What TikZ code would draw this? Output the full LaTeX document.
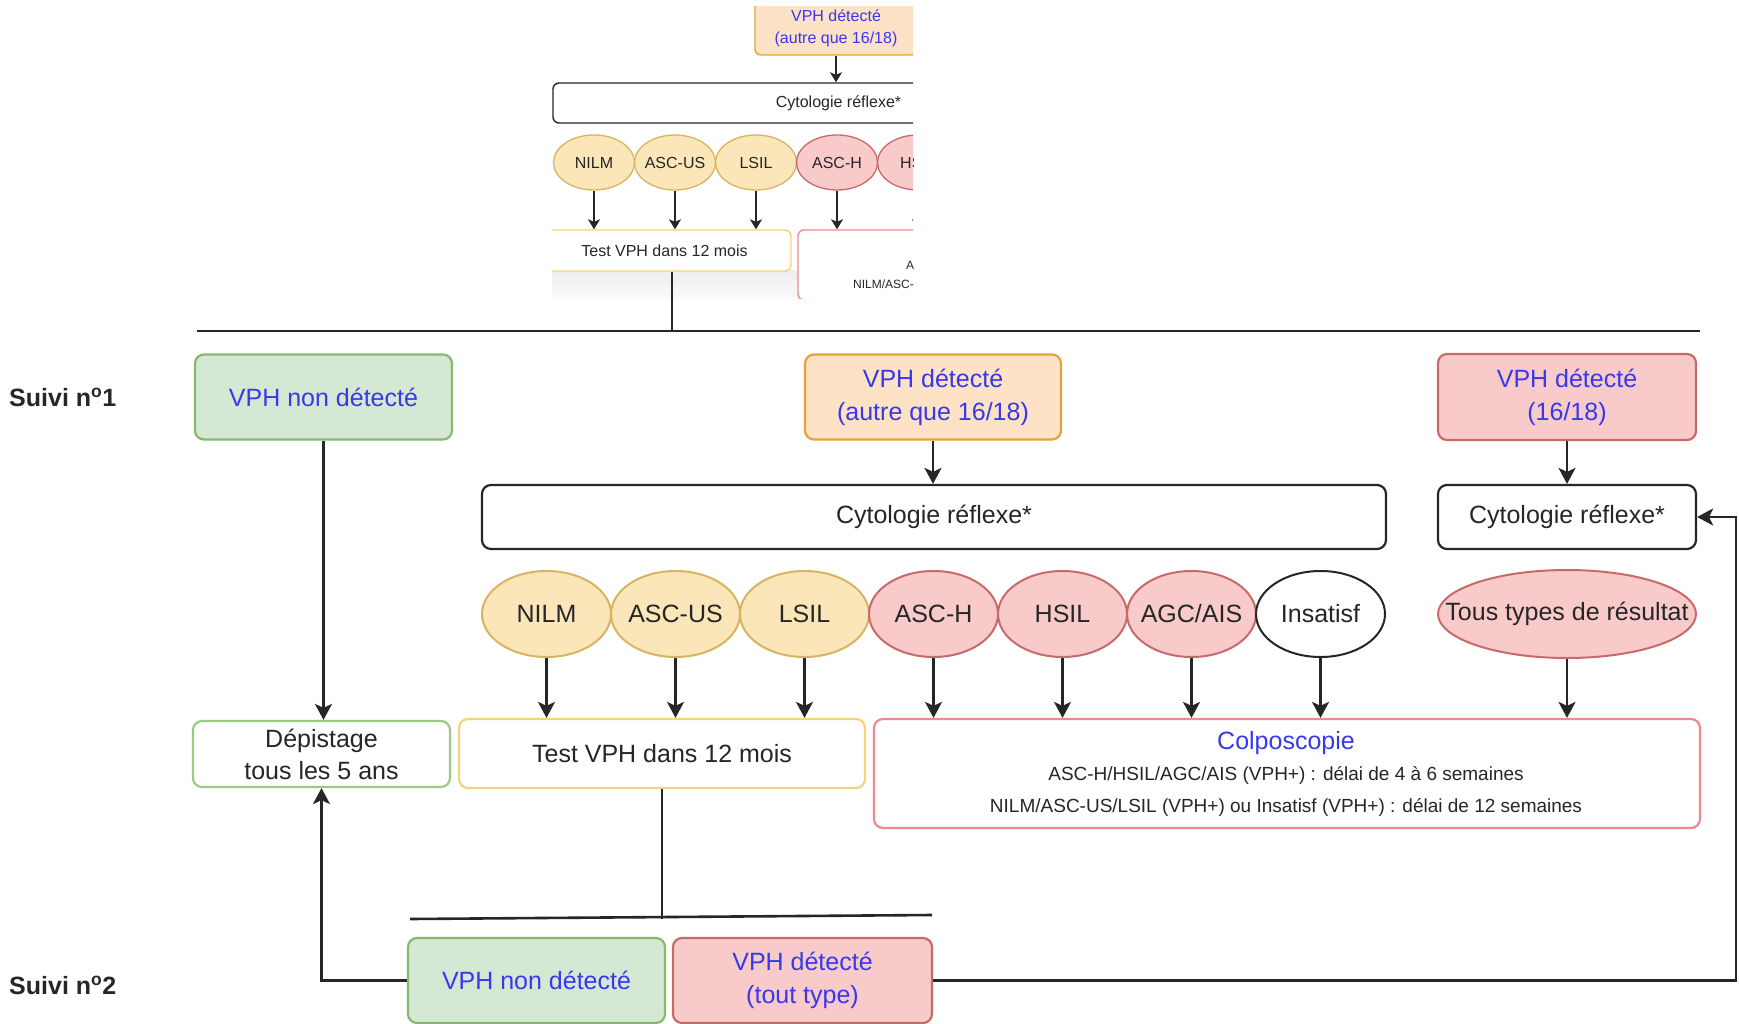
\documentclass[tikz,border=0pt]{standalone}
\usepackage{fontspec}
\setmainfont{Liberation Sans}
\usetikzlibrary{arrows.meta,shapes.geometric,calc}
\definecolor{gfill}{HTML}{D5E8D4}
\definecolor{gdraw}{HTML}{86B96C}
\definecolor{depd}{HTML}{9ACB86}
\definecolor{ofill}{HTML}{FDE2C6}
\definecolor{odraw}{HTML}{E3A33A}
\definecolor{rfill}{HTML}{F8CACA}
\definecolor{rdraw}{HTML}{C96A6A}
\definecolor{yfill}{HTML}{FAE6B8}
\definecolor{ydraw}{HTML}{D9B460}
\definecolor{tdraw}{HTML}{F3D47C}
\definecolor{cdraw}{HTML}{EF8890}
\definecolor{blu}{HTML}{3838EC}
\definecolor{txt}{HTML}{262626}
\definecolor{lin}{HTML}{262626}
\newcommand{\ezb}[1]{\makebox[0pt]{#1}}
\begin{document}
\begin{tikzpicture}[x=1pt,y=-1pt,
  box/.style={rectangle, rounded corners=9pt, line width=2.2pt, inner sep=0pt, align=center, text=txt, font=\fontsize{25}{33}\selectfont},
  ibox/.style={rectangle, rounded corners=6pt, line width=1.4pt, inner sep=0pt, align=center, text=txt, font=\fontsize{16}{22}\selectfont},
  ell/.style={ellipse, inner sep=0pt, line width=2pt, minimum width=129pt, minimum height=86pt, text=txt, font=\fontsize{25}{30}\selectfont},
  iell/.style={ellipse, inner sep=0pt, line width=1.3pt, minimum width=81pt, minimum height=55pt, text=txt, font=\fontsize{16}{20}\selectfont},
  yel/.style={fill=yfill, draw=ydraw},
  red/.style={fill=rfill, draw=rdraw},
  con/.style={line width=2.4pt, draw=lin},
  arr/.style={con, -{Stealth[length=16pt,width=17pt,inset=4pt]}},
  iarr/.style={line width=1.5pt, draw=lin, -{Stealth[length=10pt,width=12pt,inset=2.5pt]}},
  lab/.style={anchor=west, inner sep=0pt, text=txt, font=\bfseries\fontsize{25}{30}\selectfont}
]
\clip (0,0) rectangle (1739,1024);
\fill[white] (0,0) rectangle (1739,1024);

% ---------- inset (cropped picture) ----------
\begin{scope}
\clip (552,7) rectangle (913,298);
\shade[top color=black!7, bottom color=black!2] (552,271) rectangle (800,298);
\node[ibox, fill=ofill, draw=odraw, text=blu, minimum width=162pt, minimum height=54pt] (io) at (836,28) {VPH détecté\\(autre que 16/18)};
\node[ibox, fill=white, draw=lin, minimum width=571pt, minimum height=40pt] (ic) at (838.5,103) {Cytologie réflexe*};
\node[iell, yel] (i1) at (594,162.5) {\ezb{NILM}};
\node[iell, yel] (i2) at (675,162.5) {\ezb{ASC-US}};
\node[iell, yel] (i3) at (756,162.5) {\ezb{LSIL}};
\node[iell, red] (i4) at (837,162.5) {\ezb{ASC-H}};
\node[iell, red] (i5) at (918,162.5) {\ezb{HSIL}};
\node[ibox, fill=white, draw=tdraw, minimum width=253pt, minimum height=41pt] (it) at (664.5,250.5) {Test VPH dans 12 mois};
\node[ibox, fill=white, draw=cdraw, minimum width=522pt, minimum height=70pt] (icl) at (1059,265) {};
\node[anchor=west, inner sep=0pt, text=txt, font=\fontsize{12}{14}\selectfont] (ia) at (906,266) {ASC-H/HSIL/AGC/AIS (VPH+) : délai de 4 à 6 semaines};
\node[anchor=west, inner sep=0pt, text=txt, font=\fontsize{12}{14}\selectfont] (ib) at (853,285) {NILM/ASC-US/LSIL (VPH+) ou Insatisf (VPH+) : délai de 12 semaines};
\draw[iarr] (io.south) -- (io.south |- ic.north);
\foreach \e in {i1,i2,i3} \draw[iarr] (\e.south) -- (\e.south |- it.north);
\foreach \e in {i4,i5} \draw[iarr] (\e.south) -- (\e.south |- icl.north);
\end{scope}
\coordinate (tx) at (672,0);
\coordinate (h1a) at (197,331);
\coordinate (h1b) at (1700,331);
\draw[con] (tx |- it.south) -- (tx |- h1a);
\draw[con, line width=2.6pt] (h1a) -- (h1b);

% ---------- labels ----------
\node[lab] (s1) at (9,397) {Suivi n\textsuperscript{o}1};
\node[lab] (s2) at (9,985) {Suivi n\textsuperscript{o}2};

% ---------- row 1 ----------
\node[box, fill=gfill, draw=gdraw, text=blu, minimum width=257pt, minimum height=85pt] (nd1) at (323.5,397) {VPH non détecté};
\node[box, fill=ofill, draw=odraw, text=blu, minimum width=256pt, minimum height=85pt] (oth) at (933,397) {VPH détecté\\(autre que 16/18)};
\node[box, fill=rfill, draw=rdraw, text=blu, minimum width=258pt, minimum height=86pt] (hr) at (1567,397) {VPH détecté\\(16/18)};
\node[box, fill=white, draw=lin, minimum width=904pt, minimum height=64pt] (cyt1) at (934,517) {Cytologie réflexe*};
\node[box, fill=white, draw=lin, minimum width=258pt, minimum height=64pt] (cyt2) at (1567,517) {Cytologie réflexe*};

% ---------- ellipses ----------
\node[ell, yel] (e1) at (546.5,614) {\ezb{NILM}};
\node[ell, yel] (e2) at (675.5,614) {\ezb{ASC-US}};
\node[ell, yel] (e3) at (804.5,614) {\ezb{LSIL}};
\node[ell, red] (e4) at (933.5,614) {\ezb{ASC-H}};
\node[ell, red] (e5) at (1062.5,614) {\ezb{HSIL}};
\node[ell, red] (e6) at (1191.5,614) {\ezb{AGC/AIS}};
\node[ell, fill=white, draw=lin] (e7) at (1320.5,614) {\ezb{Insatisf}};
\node[ell, red, minimum width=258pt, minimum height=88pt] (e8) at (1567,614) {\ezb{Tous types de résultat}};

% ---------- row 3 ----------
\node[box, fill=white, draw=depd, minimum width=257pt, minimum height=66pt, font=\fontsize{25}{32}\selectfont] (dep) at (321.5,754) {Dépistage\\tous les 5 ans};
\node[box, fill=white, draw=tdraw, minimum width=406pt, minimum height=69pt] (test) at (662,753.5) {Test VPH dans 12 mois};
\node[box, fill=white, draw=cdraw, minimum width=826pt, minimum height=109pt] (colpo) at (1287,773.5) {};
\node[inner sep=0pt, text=blu, font=\fontsize{25}{30}\selectfont] (colT) at (1286,743) {Colposcopie};
\node[inner sep=0pt, text=txt, font=\fontsize{19}{24}\selectfont] (colA) at (1286,775) {ASC-H/HSIL/AGC/AIS (VPH+) : délai de 4 à 6 semaines};
\node[inner sep=0pt, text=txt, font=\fontsize{19}{24}\selectfont] (colB) at (1286,807) {NILM/ASC-US/LSIL (VPH+) ou Insatisf (VPH+) : délai de 12 semaines};

% ---------- bottom ----------
\coordinate (h2a) at (410,919);
\coordinate (h2b) at (932,915);
\draw[con, line width=2.6pt] (h2a) -- (h2b);
\node[box, fill=gfill, draw=gdraw, text=blu, minimum width=257pt, minimum height=85pt] (nd2) at (536.5,980.5) {VPH non détecté};
\node[box, fill=rfill, draw=rdraw, text=blu, minimum width=259pt, minimum height=85pt] (dt2) at (802.5,980.5) {VPH détecté\\(tout type)};

% ---------- connectors ----------
\draw[arr] (nd1.south) -- (nd1.south |- dep.north);
\draw[arr] (oth.south) -- (oth.south |- cyt1.north);
\draw[arr] (hr.south) -- (hr.south |- cyt2.north);
\foreach \e in {e1,e2,e3} \draw[arr] (\e.south) -- (\e.south |- test.north);
\foreach \e in {e4,e5,e6,e7,e8} \draw[arr] (\e.south) -- (\e.south |- colpo.north);
\draw[con] (test.south) -- (test.south |- h2a);
\draw[arr] (nd2.west) -| (dep.south);
\coordinate (rc) at (1736,980.5);
\draw[arr] (dt2.east) -- (rc) |- (cyt2.east);
\end{tikzpicture}
\end{document}
